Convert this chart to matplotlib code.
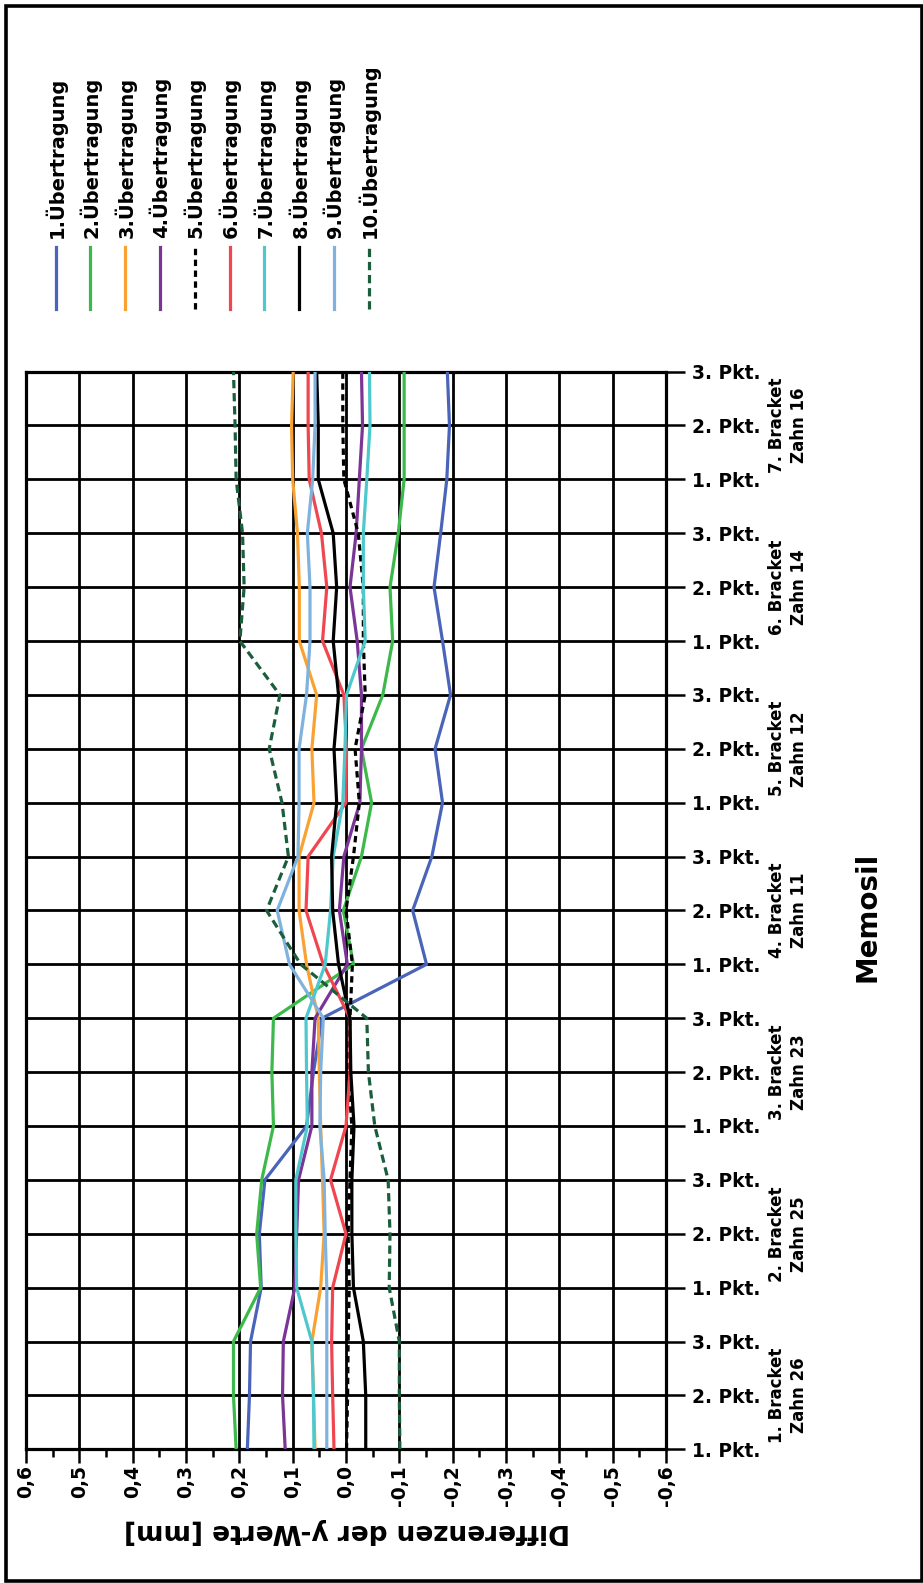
import matplotlib
matplotlib.use("Agg")
import matplotlib.pyplot as plt
import matplotlib.transforms as mtransforms
from matplotlib.lines import Line2D
from matplotlib.patches import Rectangle
import numpy as np

# ---------------- data ----------------
point_labels = ["1. Pkt.", "2. Pkt.", "3. Pkt."] * 7
group_labels = ["1. Bracket\nZahn 26", "2. Bracket\nZahn 25", "3. Bracket\nZahn 23",
                "4. Bracket\nZahn 11", "5. Bracket\nZahn 12", "6. Bracket\nZahn 14",
                "7. Bracket\nZahn 16"]
value_ticks = [0.6, 0.5, 0.4, 0.3, 0.2, 0.1, 0.0, -0.1, -0.2, -0.3, -0.4, -0.5, -0.6]
value_tick_labels = ["0,6", "0,5", "0,4", "0,3", "0,2", "0,1", "0,0",
                     "-0,1", "-0,2", "-0,3", "-0,4", "-0,5", "-0,6"]
series_names = ["1.Übertragung", "2.Übertragung", "3.Übertragung", "4.Übertragung",
                "5.Übertragung", "6.Übertragung", "7.Übertragung", "8.Übertragung",
                "9.Übertragung", "10.Übertragung"]

s1 = [0.185, 0.181, 0.179, 0.159, 0.1625, 0.152, 0.074, 0.061, 0.045, -0.151, -0.125,
      -0.161, -0.181, -0.167, -0.196, -0.181, -0.165, -0.1775, -0.189, -0.194, -0.19]
s2 = [0.206, 0.211, 0.211, 0.16, 0.1675, 0.158, 0.136, 0.139, 0.136, -0.014, 0.005,
      -0.029, -0.048, -0.029, -0.069, -0.0875, -0.0825, -0.098, -0.109, -0.109, -0.109]
s3 = [0.058, 0.061, 0.064, 0.0475, 0.041, 0.044, 0.0475, 0.05, 0.052, 0.074, 0.088,
      0.088, 0.06, 0.064, 0.055, 0.0875, 0.0875, 0.091, 0.1, 0.102, 0.099]
s4 = [0.114, 0.119, 0.1175, 0.096, 0.0925, 0.089, 0.064, 0.064, 0.058, -0.0025, 0.0125,
      0.004, -0.026, -0.029, -0.029, -0.021, -0.0075, -0.019, -0.025, -0.031, -0.029]
s5 = [-0.001, -0.003, -0.004, -0.006, -0.004, -0.0075, -0.011, -0.004, -0.0075, -0.012, 0.0,
      -0.014, -0.025, -0.017, -0.036, -0.0325, -0.0325, -0.023, 0.004, 0.006, 0.006]
s6 = [0.0225, 0.025, 0.027, 0.025, 0.0, 0.029, 0.0, -0.0075, -0.0075, 0.0425, 0.075,
      0.071, 0.0, -0.001, 0.004, 0.044, 0.036, 0.046, 0.069, 0.071, 0.071]
s7 = [0.06, 0.061, 0.064, 0.0925, 0.094, 0.094, 0.0725, 0.074, 0.075, 0.039, 0.029,
      0.024, 0.006, 0.002, -0.001, -0.036, -0.0325, -0.0325, -0.039, -0.045, -0.044]
s8 = [-0.037, -0.037, -0.0325, -0.014, -0.011, -0.011, -0.015, -0.009, -0.0075, 0.014, 0.025,
      0.027, 0.0175, 0.0225, 0.014, 0.024, 0.0175, 0.024, 0.052, 0.052, 0.055]
s9 = [0.036, 0.036, 0.036, 0.036, 0.039, 0.041, 0.049, 0.0475, 0.0425, 0.106, 0.129,
      0.09, 0.088, 0.088, 0.074, 0.0675, 0.0675, 0.0725, 0.0625, 0.058, 0.058]
s10 = [-0.101, -0.1, -0.1, -0.081, -0.0825, -0.079, -0.054, -0.042, -0.039, 0.085, 0.149,
       0.108, 0.12, 0.144, 0.124, 0.199, 0.191, 0.194, 0.206, 0.208, 0.211]

series = [s1, s2, s3, s4, s5, s6, s7, s8, s9, s10]
colors = ["#4a64b9", "#3db94c", "#f9a233", "#7a3596", "#000000",
          "#f04650", "#4ec8cc", "#000000", "#80b2de", "#1b5e3b"]
dash_styles = [None, None, None, None, (0, (2.0, 1.4)), None, None, None, None, (0, (2.6, 1.5))]

# ---------------- figure ----------------
W, H = 923, 1583
fig = plt.figure(figsize=(W / 100, H / 100), dpi=100)
fig.patch.set_facecolor("white")

def fx(px):
    return px / W

def fy(py):
    return 1 - py / H

BOLD = {"family": "DejaVu Sans", "weight": "bold"}

# outer frame
fig.patches.append(Rectangle((fx(5.5), fy(1581)), fx(921.5) - fx(5.5), fy(6) - fy(1581),
                             transform=fig.transFigure, fill=False, edgecolor="black",
                             linewidth=2.6, zorder=10))

left, right, top, bottom = 26, 666, 371.6, 1449.3
ax = fig.add_axes([fx(left), fy(bottom), fx(right) - fx(left), (bottom - top) / H])

cats = np.arange(len(point_labels))
for name, vals, c, ds in zip(series_names, series, colors, dash_styles):
    ls = ds if ds is not None else "-"
    ax.plot(vals, cats, color=c, lw=2.3, linestyle=ls, label=name, zorder=3)

ax.set_xlim(0.6, -0.6)
ax.set_ylim(0, len(point_labels) - 1)

ax.set_xticks(value_ticks)
ax.set_xticklabels(value_tick_labels, rotation=90, fontdict=BOLD, fontsize=13.5)
ax.set_xticks(np.arange(-0.55, 0.6, 0.1), minor=True)
ax.tick_params(axis="x", which="major", direction="out", length=10, width=1.8, pad=1.5)
ax.tick_params(axis="x", which="minor", direction="out", length=6, width=1.8)

ax.set_yticks(cats)
ax.set_yticklabels(point_labels, fontdict=BOLD, fontsize=13.4)
ax.yaxis.tick_right()
ax.tick_params(axis="y", which="major", direction="out", length=13.5, width=1.8, pad=5,
               left=False, right=True)

ax.grid(True, which="major", color="black", linewidth=2.0, zorder=1)
ax.set_axisbelow(True)
for sp in ax.spines.values():
    sp.set_linewidth(2.3)

# group labels
trans = mtransforms.blended_transform_factory(fig.transFigure, ax.transData)
for g, lab in enumerate(group_labels):
    ax.text(fx(788), 3 * g + 1, lab, transform=trans, rotation=90, ha="center",
            va="center", multialignment="center", fontdict=BOLD, fontsize=12,
            linespacing=1.35)

# axis titles
fig.text(fx(868), fy(917), "Memosil", rotation=90, ha="center", va="center",
         fontdict=BOLD, fontsize=20)
fig.text(fx(347), fy(1531), "Differenzen der y-Werte [mm]", rotation=180, ha="center",
         va="center", fontdict=BOLD, fontsize=19)

# legend (rotated)
for i, (name, c, ds) in enumerate(zip(series_names, colors, dash_styles)):
    x = 55.5 + 34.8 * i
    ls = ds if ds is not None else "-"
    fig.add_artist(Line2D([fx(x), fx(x)], [fy(309), fy(247)], transform=fig.transFigure,
                          color=c, lw=2.3, linestyle=ls))
    fig.text(fx(x), fy(238), name, rotation=90, ha="center", va="bottom",
             fontdict=BOLD, fontsize=14)

fig.savefig("out.png", dpi=100, facecolor="white")
